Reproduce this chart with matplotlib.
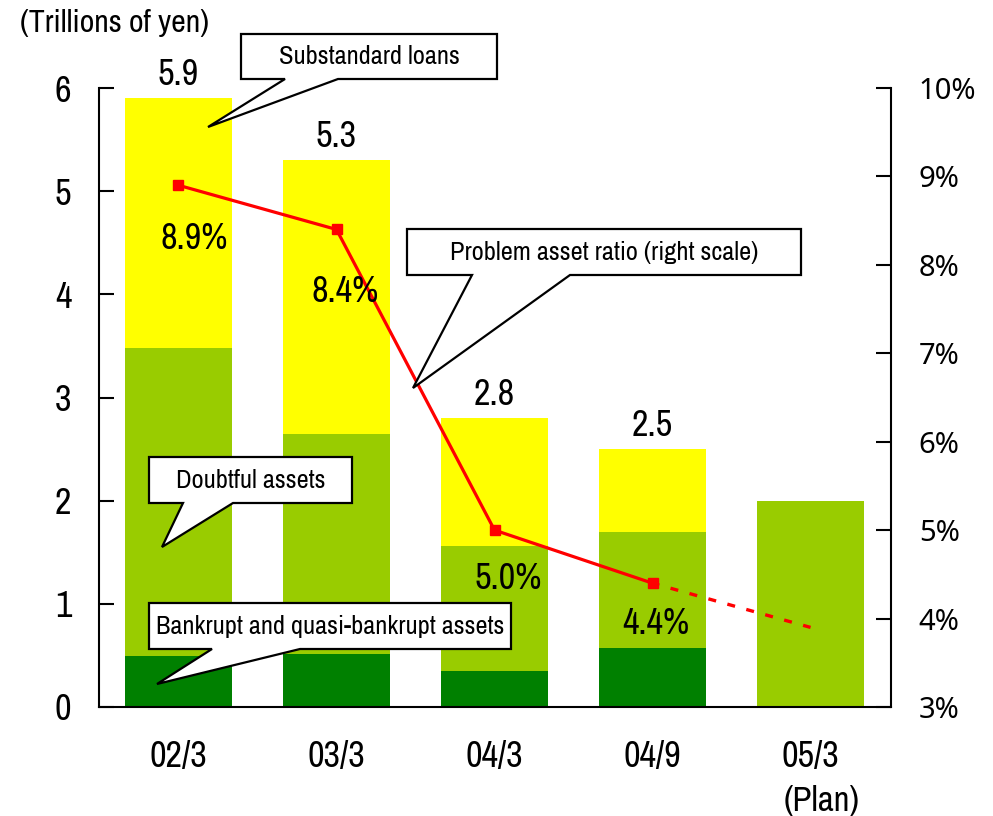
import matplotlib
matplotlib.use('Agg')
import matplotlib.pyplot as plt
from matplotlib.patches import Polygon
from matplotlib.transforms import Affine2D

plt.rcParams['font.family'] = ['Liberation Sans Narrow', 'Archivo Narrow', 'DejaVu Sans']

periods = ['02/3', '03/3', '04/3', '04/9', '05/3']
bankrupt = [0.49, 0.51, 0.35, 0.57, 0.0]
doubtful = [2.99, 2.14, 1.21, 1.13, 2.0]
totals = [5.9, 5.3, 2.8, 2.5, 2.0]
substandard = [t - b - d if i < 4 else 0.0
               for i, (t, b, d) in enumerate(zip(totals, bankrupt, doubtful))]
total_labels = ['5.9', '5.3', '2.8', '2.5', '']

ratio_actual = [8.9, 8.4, 5.0, 4.4]
ratio_plan = [4.4, 3.9]
ratio_offsets = [(11.5, -38), (6.5, -45), (9.5, -35), (2, -29)]

W, H = 993, 816
fig = plt.figure(figsize=(W / 100, H / 100), dpi=100)
ax = fig.add_axes([99 / W, 1 - 707 / H, 792 / W, 619 / H])
ax2 = ax.twinx()

x = list(range(len(periods)))
bw = 0.677
ax.bar(x, bankrupt, bw, color='#008000')
ax.bar(x, doubtful, bw, bottom=bankrupt, color='#99CC00')
ax.bar(x, substandard, bw, bottom=[b + d for b, d in zip(bankrupt, doubtful)], color='#FFFF00')

for xi, t, lab in zip(x, totals, total_labels):
    if lab:
        ax.annotate(lab, (xi, t), xytext=(0, 5), textcoords='offset points',
                    ha='center', va='bottom', fontsize=26, annotation_clip=False)

ax.set_xlim(-0.503, 4.509)
ax.set_ylim(0, 6)
ax.set_yticks(range(7))
ax.set_xticks(x)
ax.set_xticklabels(periods)
ax.annotate('(Plan)', (4, 0), xytext=(8, -56), textcoords='offset points',
            ha='center', va='top', fontsize=25, annotation_clip=False)
ax.tick_params(axis='y', direction='in', length=11, width=1.5, labelsize=26, pad=20)
ax.tick_params(axis='x', length=0, labelsize=26, pad=24)
for s in ['top', 'right']:
    ax.spines[s].set_visible(False)
for s in ['left', 'bottom']:
    ax.spines[s].set_linewidth(1.5)

# problem asset ratio on the right scale; the plan leg is dashed
ax2.plot(x[:4], ratio_actual, color='red', lw=2.3, marker='s', ms=6.5)
ax2.plot([3, 4], ratio_plan, color='red', lw=2.4, linestyle=(0.3, (2.4, 3.5)))
for xi, v, off in zip(x, ratio_actual, ratio_offsets):
    ax2.annotate(f'{v:.1f}%', (xi, v), xytext=off, textcoords='offset points',
                 ha='center', va='center', fontsize=26)
ax2.set_ylim(3, 10)
ax2.set_yticks(range(3, 11))
ax2.set_yticklabels([f'{v}%' for v in range(3, 11)], family='Noto Sans')
ax2.tick_params(axis='y', direction='in', length=11, width=1.5, labelsize=21, pad=20)
for s in ['top', 'left', 'bottom']:
    ax2.spines[s].set_visible(False)
ax2.spines['right'].set_linewidth(1.5)

fig.text(20 / W, 1 - 23 / H, '(Trillions of yen)', fontsize=23, va='center', ha='left')

# speech-bubble callouts, drawn in pixel space (y from the top)
px = Affine2D().scale(1 / W, -1 / H).translate(0, 1) + fig.transFigure


def bubble(text, x0, y0, x1, y1, b0, b1, tip):
    pts = [(x0, y0), (x1, y0), (x1, y1), (b1, y1), tip, (b0, y1), (x0, y1)]
    fig.patches.append(Polygon(pts, closed=True, transform=px, facecolor='white',
                               edgecolor='black', lw=1.6, joinstyle='miter', zorder=5))
    fig.text((x0 + x1) / 2, (y0 + y1) / 2, text, transform=px, ha='center',
             va='center', fontsize=19, zorder=6)


bubble('Substandard loans', 241, 34, 497, 79, 285, 338, (208, 127))
bubble('Problem asset ratio (right scale)', 407, 229, 801, 275, 472, 570, (413, 388))
bubble('Doubtful assets', 149, 457, 352, 503, 183, 233, (162, 547))
bubble('Bankrupt and quasi-bankrupt assets', 149, 603, 511, 649, 212, 300, (157, 684))

fig.savefig('out.png', dpi=100)
